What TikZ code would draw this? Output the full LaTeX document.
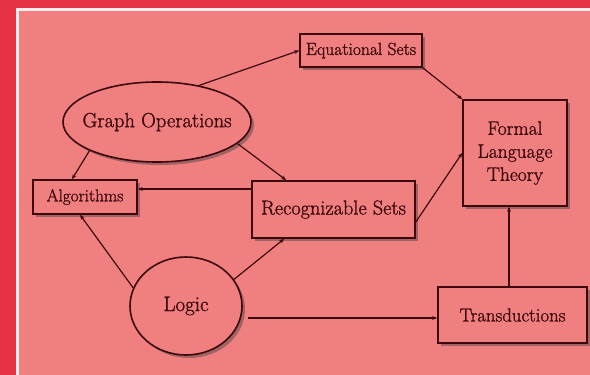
\documentclass[tikz,border=0pt]{standalone}
\usepackage{fontspec}
\newfontfamily\heavyrm{Latin Modern Roman}[FakeBold=1.2]
\usetikzlibrary{shapes.geometric,shadows,arrows.meta}
\definecolor{outerred}{RGB}{230,50,70}
\definecolor{pinkbg}{RGB}{240,128,128}
\definecolor{ink}{RGB}{60,8,14}
\tikzset{
  box/.style={draw=ink, line width=1.6pt, fill=pinkbg, text=ink, inner sep=1pt,
    drop shadow={shadow xshift=3pt, shadow yshift=-3pt, opacity=0.45, fill=black!75}},
  oval/.style={box, ellipse, inner sep=0pt},
  conn/.style={draw=ink, line width=1.2pt, -{Stealth[length=5pt,width=4pt]}},
}
\begin{document}
\begin{tikzpicture}[x=1pt,y=-1pt]
\useasboundingbox (0,0) rectangle (590,375);
\fill[outerred] (0,0) rectangle (590,375);
\fill[white!85!pinkbg] (16,8) rectangle (590,375);
\fill[pinkbg] (19,11) rectangle (590,375);
% nodes
\node[box, minimum width=122pt, minimum height=33pt, font=\heavyrm\fontsize{17.5}{19}\selectfont] (eq) at (361,50.5) {Equational Sets};
\node[oval, inner xsep=-30pt, minimum width=188pt, minimum height=80pt, font=\heavyrm\fontsize{20.5}{22}\selectfont] (go) at (157,122) {Graph Operations};
\node[box, minimum width=104pt, minimum height=34pt, font=\heavyrm\fontsize{17.2}{19}\selectfont] (alg) at (85,197) {Algorithms};
\node[box, minimum width=163pt, minimum height=57pt, font=\heavyrm\fontsize{20.3}{22}\selectfont] (rec) at (333.5,209.5) {Recognizable Sets};
\node[box, minimum width=104pt, minimum height=106pt, align=center, font=\heavyrm\fontsize{19.5}{23}\selectfont] (flt) at (515,153) {Formal\\Language\\Theory};
\node[oval, minimum width=112pt, minimum height=98pt, font=\heavyrm\fontsize{21}{23}\selectfont] (log) at (186,306) {Logic};
\node[box, minimum width=149pt, minimum height=56pt, font=\heavyrm\fontsize{18.8}{21}\selectfont] (tr) at (512.5,315) {Transductions};
% connectors
\draw[conn] (go.41) -- (eq.west);
\draw[conn] (go.203) -- ([xshift=-13pt]alg.north);
\draw[conn] (go.-15) -- ([xshift=35pt]rec.north west);
\draw[conn] ([yshift=8pt]alg.east -| rec.west) -- ([yshift=8pt]alg.east);
\draw[conn] ([yshift=-12.5pt]rec.east) -- (flt.west);
\draw[conn] (eq.south east) -- (flt.north west);
\draw[conn] (log.161) -- ([xshift=-5pt]alg.south);
\draw[conn] (log.29) -- ([xshift=33pt]rec.south west);
\draw[conn] ([xshift=5pt,yshift=-3pt]log.east |- tr.west) -- ([yshift=-3pt]tr.west);
\draw[conn] ([xshift=-3.5pt]tr.north) -- ([xshift=-3.5pt]tr.north |- flt.south);
\end{tikzpicture}
\end{document}
